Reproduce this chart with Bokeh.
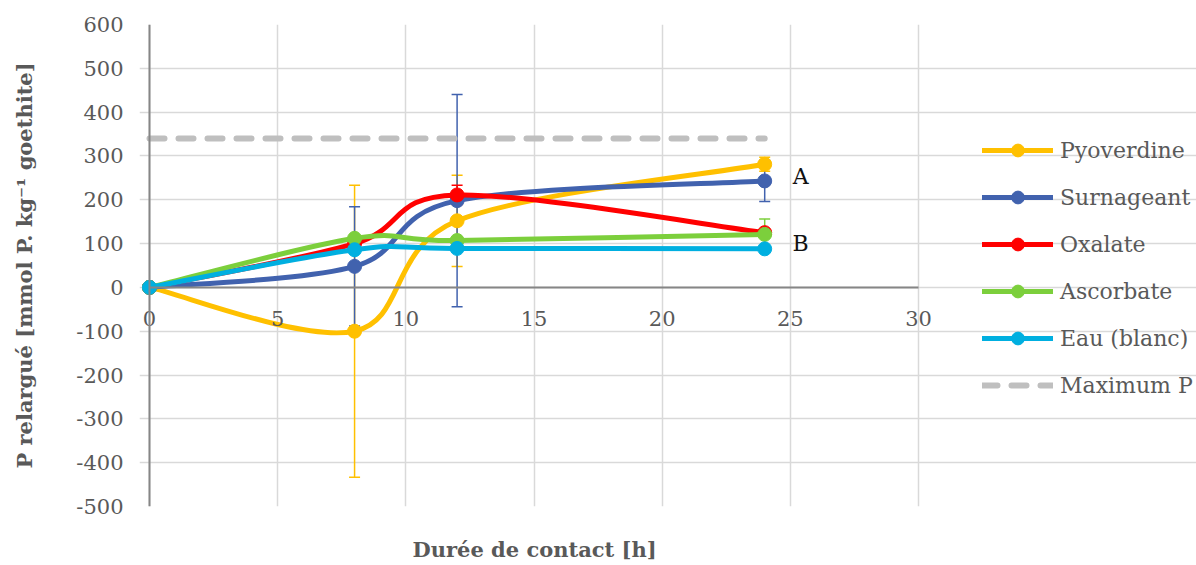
from bokeh.plotting import figure
from bokeh.models import (ColumnDataSource, FixedTicker, Whisker, TeeHead, Span,
                          Legend, LegendItem, Range1d, Title)
from bokeh.core.properties import value
from bokeh.embed import file_html
from bokeh.resources import INLINE

# Contact time (h)
hours = [0, 8, 12, 24]

# Released P (mmol P / kg goethite) and standard deviations
pyoverdine = [0, -100, 152, 281]
pyoverdine_sd = [0, 333, 104, 16]
surnageant = [0, 48, 198, 243]
surnageant_sd = [0, 136, 242, 47]
oxalate = [0, 100, 211, 125]
oxalate_sd = [0, 0, 22, 0]
ascorbate = [0, 112, 107, 121]
ascorbate_sd = [0, 0, 0, 35]
eau = [0, 86, 89, 88]
eau_sd = [0, 0, 0, 0]

# Maximum releasable P
max_p_hours = [0, 24]
max_p = [340, 340]

series_names = ["Pyoverdine", "Surnageant", "Oxalate", "Ascorbate", "Eau (blanc)"]
series_values = [pyoverdine, surnageant, oxalate, ascorbate, eau]
series_sd = [pyoverdine_sd, surnageant_sd, oxalate_sd, ascorbate_sd, eau_sd]
series_colors = ["#FFC000", "#4162AE", "#FF0000", "#7CCF3C", "#00AFE0"]

x_ticks = [0, 5, 10, 15, 20, 25, 30]
y_ticks = [-500, -400, -300, -200, -100, 0, 100, 200, 300, 400, 500, 600]

# Group letters
group_x = [25.4, 25.4]
group_y = [252, 100]
group_labels = ["A", "B"]

SERIF = "DejaVu Serif"
GREY_TEXT = "#595959"

# Layout: the frame runs past the 0-30 h axis so that the edge tick labels and
# the legend on the right are not clipped; grid and axis are bounded to 0-30 h.
W, H = 1196, 565
LEFT, TOP, BOTTOM = 139, 24, 59
PX_PER_H = 769 / 30.0
X_START = -(149 - LEFT) / PX_PER_H
X_END = X_START + (W - LEFT) / PX_PER_H


def smooth_segments(xs, ys):
    """Cubic Bezier segments through the points (Catmull-Rom style smoothing)."""
    n = len(xs)
    seg = dict(x0=[], y0=[], x1=[], y1=[], cx0=[], cy0=[], cx1=[], cy1=[])
    for i in range(n - 1):
        xp, yp = (xs[i - 1], ys[i - 1]) if i > 0 else (xs[i], ys[i])
        xn, yn = (xs[i + 2], ys[i + 2]) if i + 2 < n else (xs[i + 1], ys[i + 1])
        seg["x0"].append(xs[i]); seg["y0"].append(ys[i])
        seg["x1"].append(xs[i + 1]); seg["y1"].append(ys[i + 1])
        seg["cx0"].append(xs[i] + (xs[i + 1] - xp) / 6)
        seg["cy0"].append(ys[i] + (ys[i + 1] - yp) / 6)
        seg["cx1"].append(xs[i + 1] - (xn - xs[i]) / 6)
        seg["cy1"].append(ys[i + 1] - (yn - ys[i]) / 6)
    return seg


p = figure(width=W, height=H, output_backend="svg", toolbar_location=None,
           x_range=Range1d(X_START, X_END), y_range=Range1d(-500, 600),
           min_border_left=LEFT, min_border_right=0, min_border_top=TOP,
           min_border_bottom=BOTTOM)
p.outline_line_color = None
p.background_fill_color = "white"
p.border_fill_color = "white"

# grid
p.xgrid.ticker = FixedTicker(ticks=x_ticks)
p.ygrid.ticker = FixedTicker(ticks=y_ticks)
p.ygrid.bounds = (x_ticks[0], x_ticks[-1])
for g in (p.xgrid, p.ygrid):
    g.grid_line_color = "#D9D9D9"
    g.grid_line_width = 1.5

# y axis (line drawn at x = 0 by the span below)
p.yaxis.ticker = FixedTicker(ticks=y_ticks)
p.yaxis.major_label_overrides = {t: str(t) for t in y_ticks}
p.yaxis.axis_line_color = None
p.yaxis.major_tick_out = 0
p.yaxis.major_tick_in = 0
p.yaxis.minor_tick_out = 0
p.yaxis.minor_tick_in = 0
p.yaxis.major_label_text_font = SERIF
p.yaxis.major_label_text_font_size = "21px"
p.yaxis.major_label_text_color = GREY_TEXT
p.yaxis.major_label_standoff = 16
p.yaxis.axis_label = "P relargué [mmol P. kg\u207b\u00b9 goethite]"
p.yaxis.axis_label_text_font = SERIF
p.yaxis.axis_label_text_font_style = "bold"
p.yaxis.axis_label_text_font_size = "21px"
p.yaxis.axis_label_text_color = GREY_TEXT
p.yaxis.axis_label_standoff = 36

p.add_layout(Span(location=0, dimension="height", line_color="#868686",
                  line_width=2))

# x axis crosses at y = 0
xax = p.xaxis[0]
xax.fixed_location = 0
xax.bounds = (x_ticks[0], x_ticks[-1])
xax.ticker = FixedTicker(ticks=x_ticks)
xax.axis_line_color = "#868686"
xax.axis_line_width = 2
xax.major_tick_out = 0
xax.major_tick_in = 0
xax.minor_tick_out = 0
xax.minor_tick_in = 0
xax.major_label_text_font = SERIF
xax.major_label_text_font_size = "21px"
xax.major_label_text_color = GREY_TEXT
xax.major_label_standoff = 24

# x-axis title, set one line lower than the panel top
p.add_layout(Title(text="\nDurée de contact [h]", align="left",
                   vertical_align="bottom", text_font=SERIF,
                   text_font_style="bold", text_font_size="21px",
                   text_color=GREY_TEXT, standoff=6, offset=273), "below")

# error bars
for vals, sds, color in zip(series_values, series_sd, series_colors):
    xs = [h for h, s in zip(hours, sds) if s > 0]
    if not xs:
        continue
    src = ColumnDataSource(dict(
        x=xs,
        upper=[v + s for v, s in zip(vals, sds) if s > 0],
        lower=[v - s for v, s in zip(vals, sds) if s > 0]))
    p.add_layout(Whisker(source=src, base="x", upper="upper", lower="lower",
                         line_color=color, line_width=1.5,
                         upper_head=TeeHead(size=11, line_color=color, line_width=1.5),
                         lower_head=TeeHead(size=11, line_color=color, line_width=1.5)))

legend_items = []
for name, vals, color in zip(series_names, series_values, series_colors):
    seg = ColumnDataSource(smooth_segments(hours, vals))
    curve = p.bezier(x0="x0", y0="y0", x1="x1", y1="y1", cx0="cx0", cy0="cy0",
                     cx1="cx1", cy1="cy1", source=seg, line_color=color,
                     line_width=5, line_cap="round")
    dots = p.scatter(hours, vals, size=14, fill_color=color, line_color=color)
    legend_items.append(LegendItem(label=name, renderers=[curve, dots]))

maxline = p.line(max_p_hours, max_p, line_color="#BFBFBF", line_width=6,
                 line_dash="15 14", line_cap="round")
legend_items.append(LegendItem(label="Maximum P", renderers=[maxline]))

p.text(x=group_x, y=group_y, text=group_labels, text_font=value(SERIF),
       text_font_size="22px", text_color="#111111", text_align="center",
       text_baseline="middle")

legend = Legend(items=legend_items, location=(982 - LEFT, 105), padding=0,
                margin=0, glyph_width=71, glyph_height=32, label_height=32,
                spacing=15, label_standoff=7, border_line_color=None,
                background_fill_alpha=0,
                label_text_font=SERIF, label_text_font_size="22px",
                label_text_color=GREY_TEXT)
p.add_layout(legend)

open("out.html", "w").write(file_html(p, INLINE))
